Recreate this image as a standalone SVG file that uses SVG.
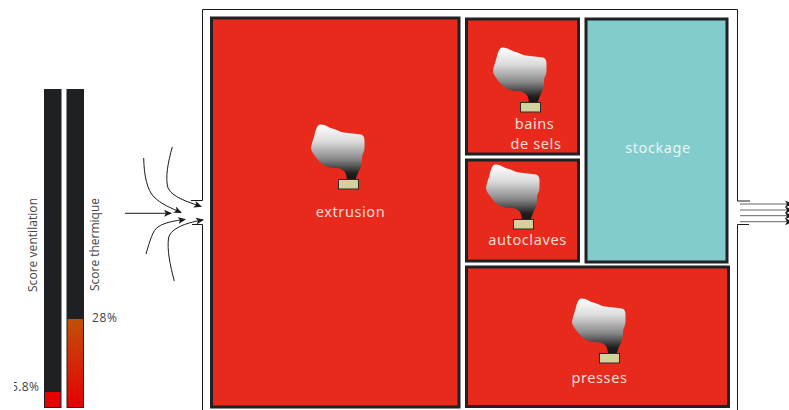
<svg xmlns="http://www.w3.org/2000/svg" xmlns:xlink="http://www.w3.org/1999/xlink" width="789" height="410" viewBox="0 0 789 410">
<style>
.room{stroke:#1f2125;stroke-width:3}
.red{fill:#e82a1d}
.lbl{font-family:"Noto Sans","Open Sans",sans-serif;font-size:14.5px;fill:#fbdcd6;text-anchor:middle;letter-spacing:.6px}
.small{font-family:"Open Sans","Noto Sans",sans-serif;font-size:12px;fill:#444}
.wall{fill:none;stroke:#1a1a1a;stroke-width:1}
.flow{fill:none;stroke:#1a1a1a;stroke-width:1;marker-end:url(#head)}
.out{fill:none;stroke:#666;stroke-width:1;marker-end:url(#head)}
.base{fill:#d2d29c;stroke:#2a2a2a;stroke-width:1}
</style>
<defs>
<linearGradient id="smoke" x1="0" y1="0" x2="0" y2="1"><stop offset="0" stop-color="#fff"/><stop offset=".3" stop-color="#dcdcdc"/><stop offset=".62" stop-color="#8a8a8c"/><stop offset=".88" stop-color="#1f1f1f"/><stop offset="1" stop-color="#151515"/></linearGradient>
<linearGradient id="heat" x1="0" y1="0" x2="0" y2="1"><stop offset="0" stop-color="#c25008"/><stop offset="1" stop-color="#e60000"/></linearGradient>
<marker id="head" markerUnits="userSpaceOnUse" markerWidth="9" markerHeight="8" refX="7" refY="4" orient="auto"><path d="M0 .5L8 4L0 7.5L2 4Z" fill="#1a1a1a"/></marker>
<clipPath id="clipL"><rect x="14" y="370" width="40" height="30"/></clipPath>
<g id="plume">
<path fill="url(#smoke)" d="M-17.500-54.500C-12-54.500-9-51-4-50C0-49 2-47 6-46.500C11-45.500 18-45.500 23-44.500C26-43.500 26.500-41 26.500-38C26.500-33 26.800-29 25.500-26.500C24-24 24-22 24-19C24-14 22-10 20-6C19-3 18-1 17.500 1L9 1C8.500-3 8-6 6.500-7.500C4-10 1-11-2-11C-6-11-10-11.500-13.500-13.500C-17-15.500-21-20-23-23C-25-26-27-28-27-31C-26.500-36-24.500-40-23.500-44C-22.500-48-21-54.500-17.500-54.500Z"/>
<rect class="base" x="0.500" y="0.500" width="20" height="9.500"/>
</g>
</defs>
<rect width="789" height="410" fill="#fff"/>

<g id="score-ventilation">
<rect x="44" y="89" width="17.500" height="319" fill="#1e2024"/>
<rect x="45" y="392" width="15.500" height="15" fill="#e60000"/>
<text class="small" transform="translate(37 292) rotate(-90)" textLength="94">Score ventilation</text>
<text class="small" x="11" y="391" clip-path="url(#clipL)" textLength="28">5.8%</text>
</g>
<g id="score-thermique">
<rect x="66.500" y="89" width="17.500" height="319" fill="#1e2024"/>
<rect x="67.500" y="319" width="15.500" height="88" fill="url(#heat)"/>
<text class="small" transform="translate(98.500 291) rotate(-90)" textLength="93">Score thermique</text>
<text class="small" x="92" y="322" textLength="25">28%</text>
</g>

<g id="connectors">
<path class="wall" d="M191 200.500H202.500V9.500H737.500V201H750"/>
<path class="wall" d="M192 224.500H202.500V410"/>
<path class="wall" d="M749 224.500H737.500V410"/>
<path class="flow" d="M125 213.300H171"/>
<path class="flow" d="M143.700 158C144 175 147 190 154 197C161 204 171 208 181 212.500"/>
<path class="flow" d="M172.300 147C168 162 165 178 168 188C172 197 188 202 201 206.500"/>
<path class="flow" d="M146 254C150 240 153 230 158 227C165 222 175 221 185 219.300"/>
<path class="flow" d="M174.300 281C170 265 167 250 168.500 238C171 227 190 222 203 220"/>
<path class="out" d="M740 204H792"/>
<path class="out" d="M740 210H792"/>
<path class="out" d="M740 215.700H792"/>
<path class="out" d="M740 221.700H792"/>
</g>

<g id="extrusion">
<rect class="room red" x="211.500" y="18" width="247.500" height="389"/>
<use href="#plume" x="338" y="179"/>
<text class="lbl" x="350.500" y="217">extrusion</text>
</g>
<g id="bains-de-sels">
<rect class="room red" x="466.500" y="19" width="112" height="135"/>
<use href="#plume" x="520" y="102"/>
<text class="lbl" x="534.500" y="129">bains</text>
<text class="lbl" x="536" y="149">de sels</text>
</g>
<g id="autoclaves">
<rect class="room red" x="466.500" y="160" width="112" height="101"/>
<use href="#plume" x="513" y="219"/>
<text class="lbl" x="527.500" y="245">autoclaves</text>
</g>
<g id="stockage">
<rect class="room" fill="#83cccd" x="586" y="19" width="141" height="243"/>
<text class="lbl" x="658" y="153" style="fill:#e8f6f5">stockage</text>
</g>
<g id="presses">
<rect class="room red" x="466.500" y="267" width="262" height="139.500"/>
<use href="#plume" x="599" y="353"/>
<text class="lbl" x="599.500" y="383">presses</text>
</g>
</svg>
